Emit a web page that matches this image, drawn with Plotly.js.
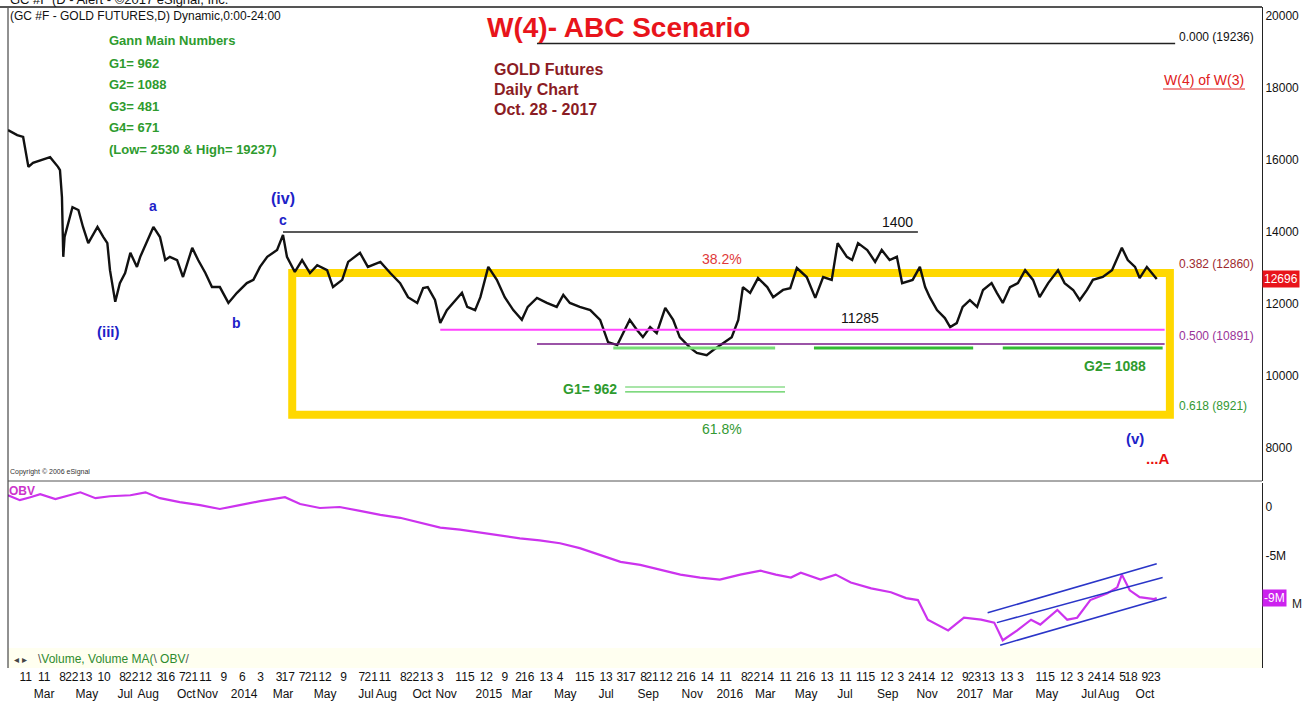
<!DOCTYPE html>
<html>
<head>
<meta charset="utf-8">
<script src="https://cdn.plot.ly/plotly-3.0.1.min.js"></script>
<style>
  html, body { margin: 0; padding: 0; background: #fff; }
  #chart { width: 1308px; height: 702px; }
</style>
</head>
<body>
<div id="chart"></div>
<script>
// gold futures daily (price x10)
var priceDates = [
  '2013-01-15','2013-01-29','2013-02-07','2013-02-15','2013-02-22','2013-03-08','2013-03-20','2013-04-01','2013-04-04','2013-04-07',
  '2013-04-09','2013-04-11','2013-04-23','2013-05-02','2013-05-09','2013-05-17','2013-05-31','2013-06-09','2013-06-15','2013-06-19',
  '2013-06-24','2013-06-27','2013-07-04','2013-07-12','2013-07-20','2013-07-30','2013-08-04','2013-08-16','2013-08-24','2013-09-03',
  '2013-09-11','2013-09-18','2013-09-29','2013-10-08','2013-10-22','2013-10-31','2013-11-11','2013-11-21','2013-12-03','2013-12-16',
  '2013-12-29','2014-01-13','2014-01-23','2014-02-02','2014-02-13','2014-02-28','2014-03-09','2014-03-15','2014-03-27','2014-04-07',
  '2014-04-19','2014-04-30','2014-05-15','2014-05-24','2014-06-07','2014-06-16','2014-07-04','2014-07-16','2014-08-04','2014-08-19',
  '2014-09-03','2014-09-15','2014-09-29','2014-10-08','2014-10-15','2014-10-26','2014-11-03','2014-11-13','2014-11-22','2014-12-06',
  '2014-12-14','2014-12-26','2015-01-03','2015-01-15','2015-01-28','2015-02-09','2015-02-22','2015-03-07','2015-03-16','2015-03-30',
  '2015-04-14','2015-04-29','2015-05-09','2015-05-19','2015-06-03','2015-06-19','2015-07-04','2015-07-16','2015-07-30','2015-08-08',
  '2015-08-18','2015-08-29','2015-09-07','2015-09-18','2015-09-28','2015-10-11','2015-10-23','2015-11-02','2015-11-18','2015-11-28',
  '2015-12-13','2015-12-23','2016-01-07','2016-01-20','2016-01-30','2016-02-06','2016-02-17','2016-02-29','2016-03-14','2016-03-23',
  '2016-04-07','2016-04-18','2016-04-28','2016-05-13','2016-05-26','2016-06-07','2016-06-20','2016-06-29','2016-07-13','2016-07-21',
  '2016-07-30','2016-08-13','2016-08-25','2016-09-04','2016-09-16','2016-09-27','2016-10-05','2016-10-21','2016-11-01','2016-11-09',
  '2016-11-16','2016-11-27','2016-12-09','2016-12-17','2016-12-27','2017-01-05','2017-01-16','2017-01-27','2017-02-05','2017-02-18',
  '2017-02-26','2017-03-07','2017-03-18','2017-03-30','2017-04-10','2017-04-22','2017-05-02','2017-05-15','2017-05-30','2017-06-09',
  '2017-06-22','2017-07-02','2017-07-13','2017-07-22','2017-08-06','2017-08-20','2017-09-04','2017-09-13','2017-09-24','2017-10-01',
  '2017-10-12','2017-10-24','2017-10-27'
];
var priceClose = [
  16830,16690,16640,15810,15920,16000,16080,15810,15720,14970,
  13310,13860,14690,14610,14140,13690,14140,13860,13690,12940,
  12310,12060,12580,12860,13420,13030,13310,13780,14140,13860,
  13220,13310,13220,12750,13560,13220,12860,12470,12470,12030,
  12310,12580,12670,13030,13310,13500,13920,13310,12890,13220,
  12860,13080,12940,12470,12670,13170,13420,13030,13170,12860,
  12580,12190,12030,12440,12470,12110,11470,11830,12030,12310,
  11920,11830,12190,13030,12670,12190,11830,11560,11920,12170,
  12030,11920,12250,12030,11920,11830,11560,10940,10860,11190,
  11560,11280,11080,11360,11190,11890,11560,11080,10780,10640,
  10580,10720,10920,11080,11560,12470,12310,12720,12470,12190,
  12390,12440,13000,12750,12170,12750,12670,13690,13310,13220,
  13690,13500,13170,13500,13220,13310,12580,12670,13030,12470,
  12190,11830,11610,11360,11470,11920,12110,11920,12390,12580,
  12310,12030,12470,12580,12940,12670,12190,12580,12940,12580,
  12390,12110,12390,12670,12750,12940,13560,13220,13030,12720,
  13030,12750,12696
];

// on-balance volume, millions
var obvDates = [
  '2013-01-15','2013-02-02','2013-02-18','2013-03-05','2013-03-28','2013-04-20','2013-05-05','2013-05-28','2013-06-19','2013-07-20',
  '2013-08-12','2013-09-03','2013-10-03','2013-11-03','2013-12-03','2014-01-02','2014-02-02','2014-03-12','2014-04-04','2014-05-04',
  '2014-06-03','2014-07-04','2014-08-04','2014-09-03','2014-10-03','2014-11-03','2014-12-03','2015-01-03','2015-02-02','2015-03-04',
  '2015-04-03','2015-05-04','2015-06-03','2015-07-04','2015-08-04','2015-09-03','2015-10-03','2015-11-03','2015-12-03','2016-01-02',
  '2016-02-02','2016-03-04','2016-03-27','2016-04-19','2016-05-04','2016-06-03','2016-06-26','2016-07-19','2016-08-19','2016-09-18',
  '2016-10-11','2016-10-29','2016-11-13','2016-12-14','2017-01-07','2017-02-02','2017-02-22','2017-03-07','2017-03-29','2017-04-19',
  '2017-05-03','2017-05-29','2017-06-13','2017-06-28','2017-07-18','2017-08-13','2017-08-28','2017-09-04','2017-09-16','2017-10-01',
  '2017-10-23','2017-10-27'
];
var obvValues = [
  1.2,0.7,1.0,1.3,0.8,1.2,1.5,0.9,1.1,1.2,
  1.5,0.9,0.5,0.2,-0.2,0.2,0.6,1.0,0.3,-0.1,
  0.0,-0.4,-0.8,-1.1,-1.6,-2.1,-2.3,-2.6,-2.9,-3.2,
  -3.4,-3.7,-4.2,-4.9,-5.6,-5.9,-6.4,-6.9,-7.2,-7.4,
  -6.9,-6.5,-6.9,-7.2,-6.7,-7.4,-6.9,-7.7,-8.3,-8.7,
  -9.3,-9.5,-11.5,-12.6,-11.3,-11.5,-11.8,-13.6,-12.6,-11.5,
  -12.0,-10.5,-11.5,-11.3,-9.5,-8.8,-8.2,-6.9,-8.5,-9.2,
  -9.4,-9.3
];

var lastClose = 12696;
var lastObv = -9.3;

// fibonacci retracement of 19236 -> 2530
var fibLevels = [19236, 12860, 10891, 8921];
var fibLabels = ['0.000 (19236)', '0.382 (12860)', '0.500 (10891)', '0.618 (8921)'];
var fibColors = ['#111111', '#9e2a2f', '#993399', '#339933'];
var fibTopDates = ['2015-03-30', '2017-11-24'];
var boxDates = ['2014-03-23', '2017-11-16'];

var line1400Dates = ['2014-03-09', '2016-10-29'];
var line1400Value = 14000;
var line11285Dates = ['2014-11-03', '2017-11-08'];
var line11285Value = 11285;
var midFibDates = ['2015-03-30', '2017-11-08'];

var g2Level = 10780;
var g2Starts = ['2015-07-24', '2016-05-24', '2017-03-07'];
var g2Ends = ['2016-03-26', '2017-01-21', '2017-11-05'];
var g1Dates = ['2015-08-11', '2016-04-10'];
var g1Levels = [9694, 9556];

// OBV channel
var chStartDates = ['2017-02-12', '2017-02-26', '2017-03-03'];
var chStartValues = [-10.8, -11.8, -14.1];
var chEndDates = ['2017-10-27', '2017-11-05', '2017-11-11'];
var chEndValues = [-5.8, -7.2, -9.2];

var priceTicks = [8000, 10000, 12000, 14000, 16000, 18000, 20000];
var obvTicks = [0, -5];
var obvTickText = ['0', '-5M'];

var dayTickDates = ['2013-02-11','2013-03-11','2013-04-08','2013-04-22','2013-05-13','2013-06-10','2013-07-08','2013-07-22','2013-08-12','2013-09-03',
  '2013-09-16','2013-10-07','2013-10-21','2013-11-11','2013-12-09','2014-01-06','2014-02-03','2014-03-03','2014-03-17','2014-04-07',
  '2014-04-21','2014-05-12','2014-06-09','2014-07-07','2014-07-21','2014-08-11','2014-09-08','2014-09-22','2014-10-13','2014-11-03',
  '2014-12-01','2014-12-15','2015-01-12','2015-02-09','2015-03-02','2015-03-16','2015-04-13','2015-05-04','2015-06-01','2015-06-15',
  '2015-07-13','2015-08-03','2015-08-17','2015-09-08','2015-09-21','2015-10-12','2015-11-02','2015-11-16','2015-12-14','2016-01-11',
  '2016-02-08','2016-02-22','2016-03-14','2016-04-11','2016-05-02','2016-05-16','2016-06-13','2016-07-11','2016-08-01','2016-08-15',
  '2016-09-12','2016-10-03','2016-10-24','2016-11-14','2016-12-12','2017-01-09','2017-01-23','2017-02-13','2017-03-13','2017-04-03',
  '2017-05-01','2017-05-15','2017-06-12','2017-07-03','2017-07-24','2017-08-14','2017-09-05','2017-09-18','2017-10-09','2017-10-23'];
var dayTickText = ['11','11','8','22','13','10','8','22','12','3',
  '16','7','21','11','9','6','3','3','17','7',
  '21','12','9','7','21','11','8','22','13','3',
  '1','15','12','9','2','16','13','4','1','15',
  '13','3','17','8','21','12','2','16','14','11',
  '8','22','14','11','2','16','13','11','1','15',
  '12','3','24','14','12','9','23','13','13','3',
  '1','15','12','3','24','14','5','18','9','23'];
// month row, placed where the picture shows each label
var monthTickDates = ['2013-03-11','2013-05-15','2013-07-12','2013-08-16','2013-10-13','2013-11-14','2014-01-09','2014-03-09','2014-05-12','2014-07-13',
  '2014-08-13','2014-10-06','2014-11-12','2015-01-16','2015-03-07','2015-05-12','2015-07-13','2015-09-15','2015-11-21','2016-01-17',
  '2016-03-11','2016-05-12','2016-07-10','2016-09-13','2016-11-12','2017-01-16','2017-03-07','2017-05-13','2017-07-16','2017-08-15','2017-10-09'];
var monthTickText = ['Mar','May','Jul','Aug','Oct','Nov','2014','Mar','May','Jul',
  'Aug','Oct','Nov','2015','Mar','May','Jul','Sep','Nov','2016',
  'Mar','May','Jul','Sep','Nov','2017','Mar','May','Jul','Aug','Oct'];

var gannLines = ['Gann Main Numbers', 'G1= 962', 'G2= 1088', 'G3= 481', 'G4= 671', '(Low= 2530 & High= 19237)'];
var infoLines = ['GOLD Futures', 'Daily Chart', 'Oct. 28 - 2017'];

var xRange = ['2013-01-15', '2018-04-05'];
var FONT = 'Arial, "Liberation Sans", sans-serif';

// pixel -> paper helpers for the plot area (8..1262, 7..668)
function fx(px) { return (px - 8) / 1254; }
function fy(py) { return (668 - py) / 661; }
function note(text, px, py, size, color, anchor) {
  return {text: text, xref: 'paper', yref: 'paper', x: fx(px), y: fy(py),
    xanchor: anchor || 'center', yanchor: 'middle', showarrow: false,
    font: {family: FONT, size: size, color: color}};
}

var traces = [
  {x: priceDates, y: priceClose, type: 'scatter', mode: 'lines', xaxis: 'x', yaxis: 'y',
    line: {color: '#111111', width: 2.4}, hoverinfo: 'skip'},
  {x: obvDates, y: obvValues, type: 'scatter', mode: 'lines', xaxis: 'x2', yaxis: 'y2',
    line: {color: '#cc33ee', width: 2.2}, hoverinfo: 'skip'},
  {x: [dayTickDates[0]], y: [null], type: 'scatter', mode: 'markers', xaxis: 'x3', yaxis: 'y2',
    marker: {opacity: 0}, hoverinfo: 'skip'}
];
for (var i = 0; i < chStartDates.length; i++) {
  traces.push({x: [chStartDates[i], chEndDates[i]], y: [chStartValues[i], chEndValues[i]],
    type: 'scatter', mode: 'lines', xaxis: 'x2', yaxis: 'y2',
    line: {color: '#2a35c8', width: 1.5}, hoverinfo: 'skip'});
}

function hline(d, v, color, width, layer) {
  return {type: 'line', xref: 'x', yref: 'y', x0: d[0], x1: d[1], y0: v, y1: v,
    line: {color: color, width: width}, layer: layer || 'above'};
}

var shapes = [
  // tab strip and frame
  {type: 'rect', xref: 'paper', yref: 'paper', x0: 0, x1: 1, y0: 0, y1: fy(648),
    fillcolor: '#fffff0', line: {width: 0}, layer: 'below'},
  {type: 'line', xref: 'paper', yref: 'paper', x0: 0, x1: 0, y0: 0, y1: 1, line: {color: '#222', width: 1}},
  {type: 'line', xref: 'paper', yref: 'paper', x0: -0.01, x1: 1, y0: 1, y1: 1, line: {color: '#555', width: 2}},
  {type: 'line', xref: 'paper', yref: 'paper', x0: 0, x1: 1, y0: fy(481), y1: fy(481), line: {color: '#555', width: 1}},
  // yellow retracement box
  {type: 'rect', xref: 'x', yref: 'y', x0: boxDates[0], x1: boxDates[1], y0: fibLevels[3], y1: fibLevels[1],
    line: {color: '#ffd800', width: 8}, layer: 'below'},
  hline(fibTopDates, fibLevels[0], '#222222', 1.5),
  hline(line1400Dates, line1400Value, '#222222', 1.5),
  hline(line11285Dates, line11285Value, '#ff44ff', 2),
  hline(midFibDates, fibLevels[2], '#7a1a8a', 1.5),
  hline(g1Dates, g1Levels[0], '#55cc55', 1.2),
  hline(g1Dates, g1Levels[1], '#55cc55', 1.2),
  // underline of W(4) of W(3)
  {type: 'line', xref: 'paper', yref: 'paper', x0: fx(1163), x1: fx(1245), y0: fy(89), y1: fy(89),
    line: {color: '#e02020', width: 1}}
];
for (var j = 0; j < g2Starts.length; j++) {
  shapes.push(hline([g2Starts[j], g2Ends[j]], g2Level, j === 0 ? '#77dd77' : '#33bb33', 3));
}

var annotations = [
  note('GC #F (D - Alert - \u00a92017 eSignal, Inc.', 8, -1, 13, '#111', 'left'),
  note('(GC #F - GOLD FUTURES,D) Dynamic,0:00-24:00', 8, 16, 12, '#111', 'left'),
  note('<b>W(4)- ABC Scenario</b>', 618, 28, 28, '#e8141b'),
  note('W(4) of W(3)', 1204, 80, 14, '#e02020'),
  note('Copyright \u00a9 2006 eSignal', 8, 472, 7, '#333', 'left'),
  note('<b>OBV</b>', 7, 491, 12, '#cc33cc', 'left'),
  note('<b>(iv)</b>', 283, 198, 16, '#1d22c8'),
  note('<b>c</b>', 283, 220, 14, '#1d22c8'),
  note('<b>a</b>', 153, 206, 14, '#1d22c8'),
  note('<b>(iii)</b>', 108, 331, 15, '#1d22c8'),
  note('<b>b</b>', 236, 323, 14, '#1d22c8'),
  note('<b>(v)</b>', 1135, 439, 15, '#1d22c8'),
  note('<b>...A</b>', 1158, 458, 15, '#e81010'),
  note('38.2%', 722, 259, 14, '#e03a3a'),
  note('61.8%', 722, 429, 14, '#339933'),
  note('<b>G1= 962</b>', 590, 389, 14, '#2e9b2e'),
  note('<b>G2= 1088</b>', 1115, 366, 14, '#2e9b2e'),
  note('1400', 897, 222, 14, '#111'),
  note('11285', 860, 318, 14, '#111'),
  note('\u25c2 \u25b8', 20, 659, 10, '#444'),
  note('<span style="color:#555">\\</span>Volume, Volume MA(<span style="color:#555">\\</span> OBV<span style="color:#555">/</span>', 36, 659, 12, '#2e8b2e', 'left'),
  note('M', 1290, 604, 12, '#222', 'left'),
  // last value tags on the right axis
  {text: String(lastClose), xref: 'paper', yref: 'y', x: 1, y: lastClose, xanchor: 'left', yanchor: 'middle',
    showarrow: false, bgcolor: '#e8141b', borderpad: 1, font: {family: FONT, size: 12, color: '#fff'}},
  {text: '-9M', xref: 'paper', yref: 'y2', x: 1, y: lastObv, xanchor: 'left', yanchor: 'middle',
    showarrow: false, bgcolor: '#cc22ee', borderpad: 1, font: {family: FONT, size: 12, color: '#fff'}}
];
var fibY = [37, 264, 336, 406];
for (var k = 0; k < fibLabels.length; k++) {
  annotations.push(note(fibLabels[k], 1177, fibY[k], 12, fibColors[k], 'left'));
}
var gannY = [41, 63, 84, 106, 127, 149];
for (var g = 0; g < gannLines.length; g++) {
  annotations.push(note('<b>' + gannLines[g] + '</b>', 107, gannY[g], 13, '#2e9b2e', 'left'));
}
var infoY = [69, 89, 110];
for (var n = 0; n < infoLines.length; n++) {
  annotations.push(note('<b>' + infoLines[n] + '</b>', 492, infoY[n], 16, '#8b1c24', 'left'));
}

var axisFont = {family: FONT, size: 12, color: '#111'};
var layout = {
  width: 1308, height: 702,
  margin: {l: 8, r: 46, t: 7, b: 34},
  paper_bgcolor: '#ffffff', plot_bgcolor: 'rgba(0,0,0,0)',
  showlegend: false, hovermode: false,
  xaxis: {type: 'date', domain: [0, 1], anchor: 'y', range: xRange, showticklabels: false,
    showgrid: false, zeroline: false, showline: false, ticks: ''},
  yaxis: {domain: [fy(481), 1], anchor: 'x', side: 'right', range: [7083, 20250],
    tickmode: 'array', tickvals: priceTicks, ticktext: priceTicks.map(String), tickfont: axisFont,
    showgrid: false, zeroline: false, showline: true, linecolor: '#222', linewidth: 1, ticks: ''},
  xaxis2: {type: 'date', domain: [0, 1], anchor: 'y2', range: xRange, tickmode: 'array',
    tickvals: monthTickDates, ticktext: monthTickText, tickfont: axisFont, tickangle: 0,
    ticklabelstandoff: 17, showgrid: false, zeroline: false, showline: false, ticks: ''},
  xaxis3: {type: 'date', overlaying: 'x2', anchor: 'y2', side: 'bottom', range: xRange, tickmode: 'array',
    tickvals: dayTickDates, ticktext: dayTickText, tickfont: axisFont, tickangle: 0,
    showgrid: false, zeroline: false, showline: false, ticks: ''},
  yaxis2: {domain: [0, fy(483)], anchor: 'x2', side: 'right', range: [-16.43, 2.45],
    tickmode: 'array', tickvals: obvTicks, ticktext: obvTickText, tickfont: axisFont,
    showgrid: false, zeroline: false, showline: true, linecolor: '#222', linewidth: 1, ticks: ''},
  shapes: shapes,
  annotations: annotations
};

Plotly.newPlot(document.getElementById('chart'), traces, layout, {displayModeBar: false, staticPlot: true});
</script>
</body>
</html>
